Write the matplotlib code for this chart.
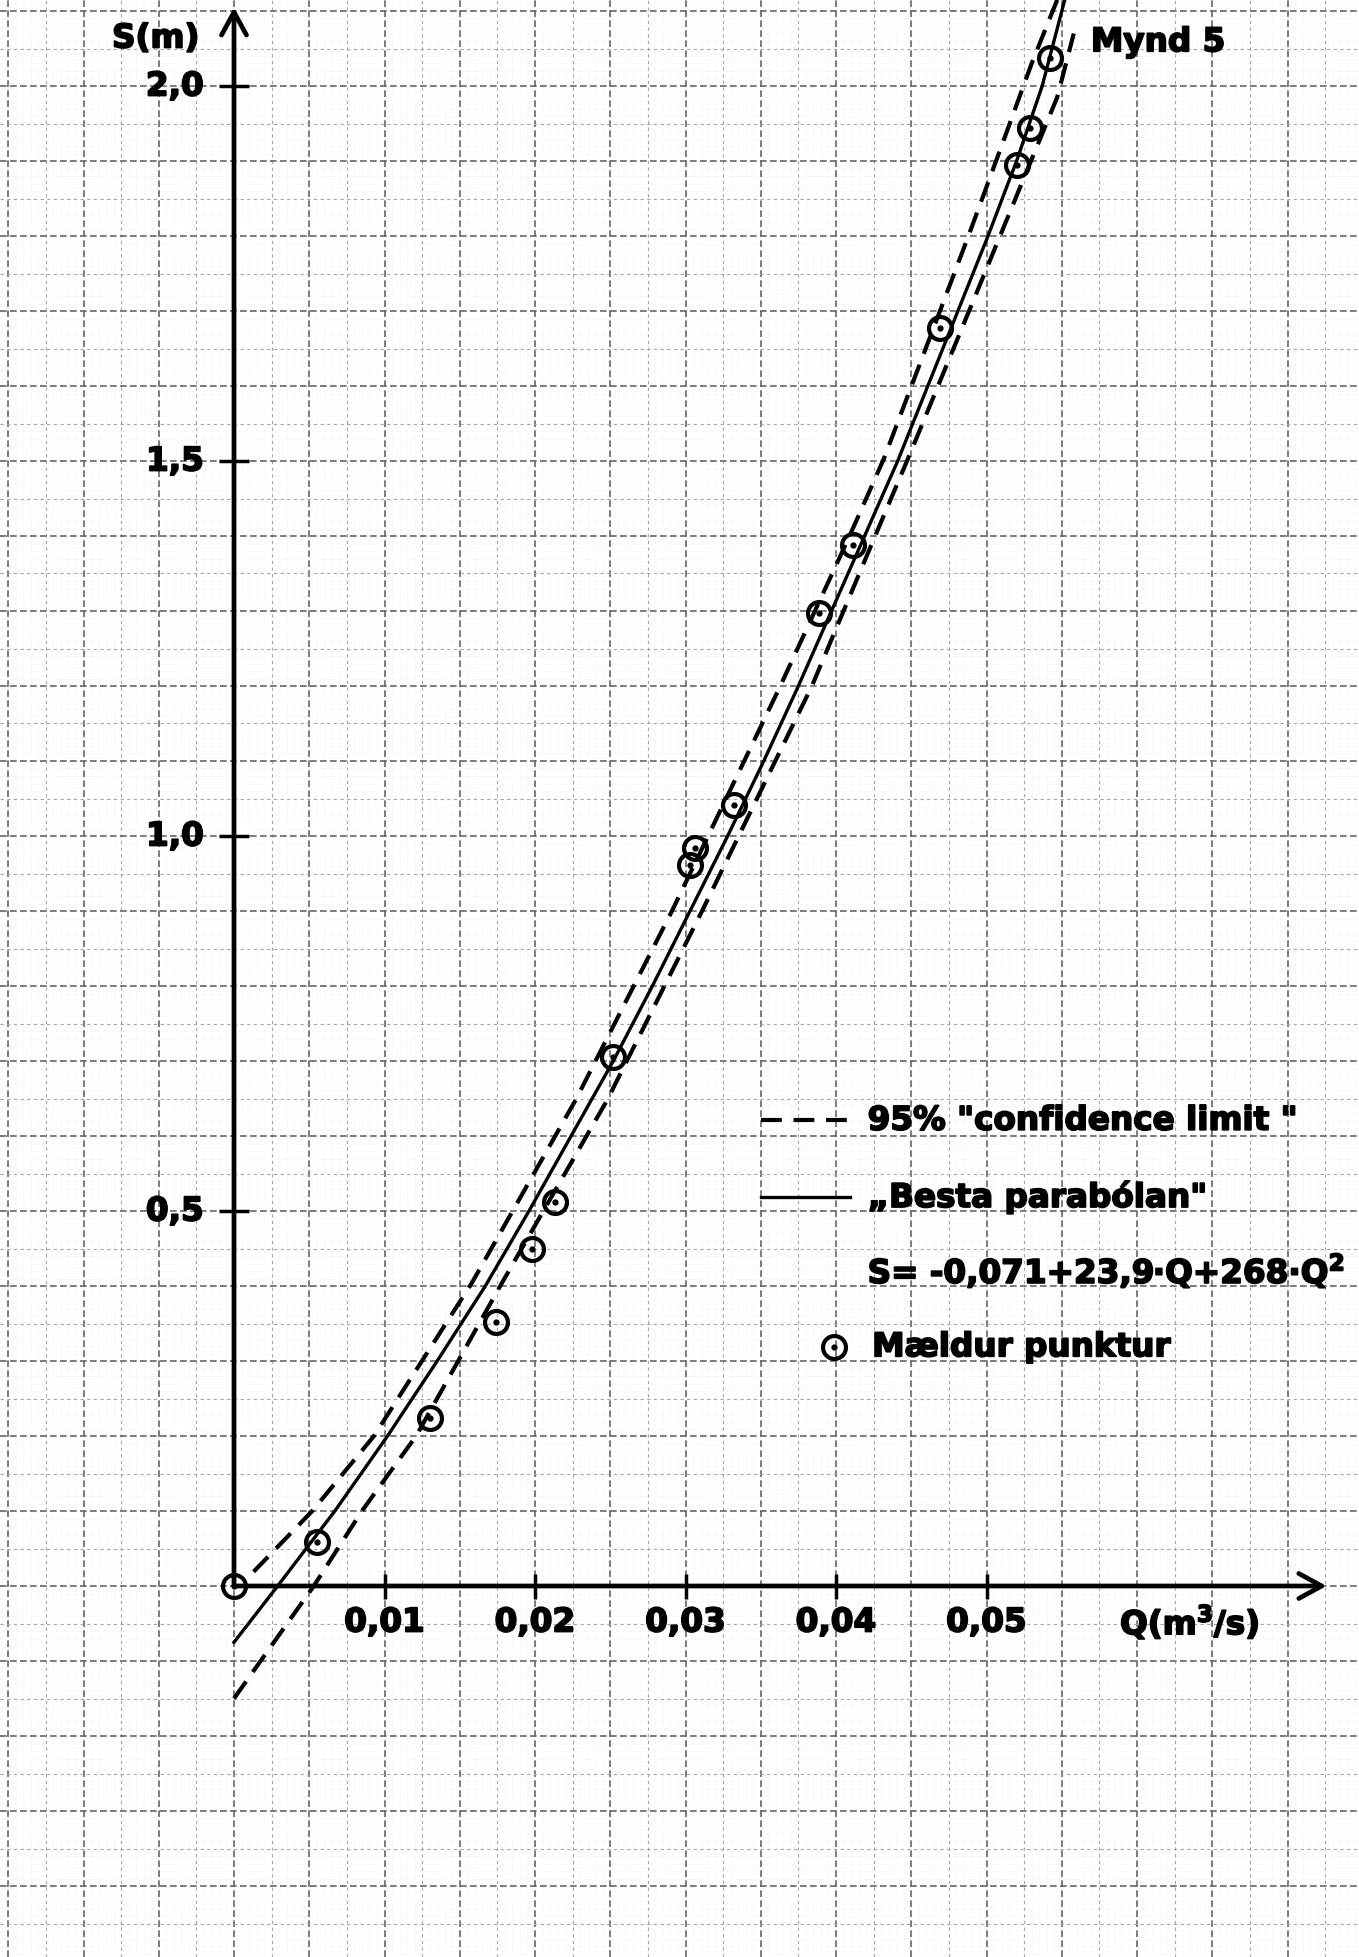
import numpy as np
import matplotlib
matplotlib.use('Agg')
import matplotlib.pyplot as plt
import matplotlib.patheffects as pe

# measured points: Q (m3/s), S (m)
q_meas = [0.0, 0.0055, 0.0130, 0.0174, 0.0198, 0.0213, 0.0252, 0.0303, 0.0306,
          0.0332, 0.0389, 0.0411, 0.0469, 0.0520, 0.0529, 0.0542]
s_meas = [0.0, 0.059, 0.224, 0.352, 0.450, 0.512, 0.705, 0.961, 0.984,
          1.041, 1.297, 1.388, 1.677, 1.895, 1.944, 2.037]

# "best parabola" as drawn
q_fit = [0.0, 0.0029, 0.0067, 0.0102, 0.0135, 0.0167, 0.0196, 0.0224, 0.0252,
         0.0278, 0.0303, 0.0328, 0.0352, 0.0375, 0.0397, 0.0419, 0.0441,
         0.0461, 0.0481, 0.0501, 0.0520, 0.0537, 0.0552]
s_fit = [-0.075, 0.0, 0.10, 0.20, 0.30, 0.40, 0.50, 0.60, 0.70,
         0.80, 0.90, 1.00, 1.10, 1.20, 1.30, 1.40, 1.50,
         1.60, 1.70, 1.80, 1.90, 2.00, 2.115]

# 95% confidence limits as drawn
q_up = [0.0013, 0.0052, 0.0093, 0.0158, 0.0227, 0.0291, 0.0363, 0.0409, 0.0432,
        0.0488, 0.0510, 0.0530, 0.0547]
s_up = [0.019, 0.10, 0.20, 0.404, 0.648, 0.90, 1.20, 1.40, 1.504,
        1.80, 1.92, 2.03, 2.115]
q_lo = [0.0, 0.0053, 0.0085, 0.0121, 0.0178, 0.0248, 0.0311, 0.0384, 0.0426,
        0.0448, 0.0509, 0.0547, 0.0558]
s_lo = [-0.150, 0.0, 0.10, 0.20, 0.404, 0.648, 0.90, 1.20, 1.40,
        1.504, 1.80, 1.985, 2.07]

x_ticks = [0.01, 0.02, 0.03, 0.04, 0.05]
x_tick_labels = ['0,01', '0,02', '0,03', '0,04', '0,05']
y_ticks = [0.5, 1.0, 1.5, 2.0]
y_tick_labels = ['0,5', '1,0', '1,5', '2,0']

FS = 23.5
heavy = [pe.withStroke(linewidth=1.3, foreground='black')]
font = dict(fontsize=FS, fontweight='bold', color='black', family='DejaVu Sans',
            path_effects=heavy)

fig = plt.figure(figsize=(13.59, 19.57), dpi=100)
ax = fig.add_axes([0, 0, 1, 1])
ax.set_xlim(-234 / 15050, (1359 - 234) / 15050)
ax.set_ylim((1586 - 1957) / 750, 1586 / 750)
ax.axis('off')

# graph paper
for i in range(-31, 150):
    x = i * 0.0005
    if i % 10 == 0:
        ax.axvline(x, color='0.4', lw=1.2, ls=(0, (4, 2)), zorder=1)
    elif i % 5 == 0:
        ax.axvline(x, color='0.65', lw=0.8, ls=(0, (3, 3)), zorder=1)
    else:
        ax.axvline(x, color='0.9', lw=0.5, ls=(0, (1, 3)), zorder=0)
for i in range(-49, 212):
    y = i * 0.01
    if i % 10 == 0:
        ax.axhline(y, color='0.4', lw=1.2, ls=(0, (4, 2)), zorder=1)
    elif i % 5 == 0:
        ax.axhline(y, color='0.65', lw=0.8, ls=(0, (3, 3)), zorder=1)
    else:
        ax.axhline(y, color='0.9', lw=0.5, ls=(0, (1, 3)), zorder=0)

# axes with open arrow heads
arrow = dict(arrowstyle='->,head_length=0.55,head_width=0.3', lw=3.4, color='k',
             mutation_scale=30, shrinkA=0, shrinkB=0)
ax.annotate('', xy=(0, 2.105), xytext=(0, 0), arrowprops=arrow, zorder=3)
ax.annotate('', xy=(0.0726, 0), xytext=(0, 0), arrowprops=arrow, zorder=3)
ax.plot(x_ticks, [0] * len(x_ticks), ls='none', marker='|', ms=18, mew=2.5,
        color='k', zorder=3)
ax.plot([0] * len(y_ticks), y_ticks, ls='none', marker='_', ms=22, mew=2.5,
        color='k', zorder=3)

for x, lab in zip(x_ticks, x_tick_labels):
    ax.text(x, -0.048, lab, ha='center', va='center', **font)
for y, lab in zip(y_ticks, y_tick_labels):
    ax.text(-0.0020, y, lab, ha='right', va='center', **font)

ax.text(-0.0052, 2.064, 'S(m)', ha='center', va='center', **font)
ax.text(0.0635, -0.048, 'Q(m$^\\mathbf{3}$/s)', ha='center', va='center', **font)
ax.text(0.0614, 2.059, 'Mynd 5', ha='center', va='center', **font)

# curves
ax.plot(q_fit, s_fit, color='k', lw=2.4, zorder=4)
dash = dict(color='k', lw=3.0, ls=(0, (5, 2.8)), zorder=4)
ax.plot(q_up, s_up, **dash)
ax.plot(q_lo, s_lo, **dash)

# measured points
mk = dict(ls='none', marker='o', ms=16.5, mfc='none', mec='k', mew=3.0, zorder=5)
dot = dict(ls='none', marker='o', ms=3.5, color='k', zorder=5)
ax.plot(q_meas, s_meas, **mk)
ax.plot(q_meas, s_meas, **dot)

# legend
ax.plot([0.0350, 0.0409], [0.621, 0.621], **dash)
ax.text(0.0421, 0.621, '95% "confidence limit "', ha='left', va='center', **font)
ax.plot([0.0350, 0.0409], [0.519, 0.519], color='k', lw=2.4, zorder=4)
ax.text(0.0421, 0.519, '\u201eBesta parabólan"', ha='left', va='center', **font)
ax.text(0.0421, 0.421, 'S= -0,071+23,9\u00b7Q+268\u00b7Q$^\\mathbf{2}$',
        ha='left', va='center', **font)
ax.plot([0.0399], [0.319], **mk)
ax.plot([0.0399], [0.319], **dot)
ax.text(0.0424, 0.319, 'Mældur punktur', ha='left', va='center', **font)

fig.savefig('out.png', dpi=100)
